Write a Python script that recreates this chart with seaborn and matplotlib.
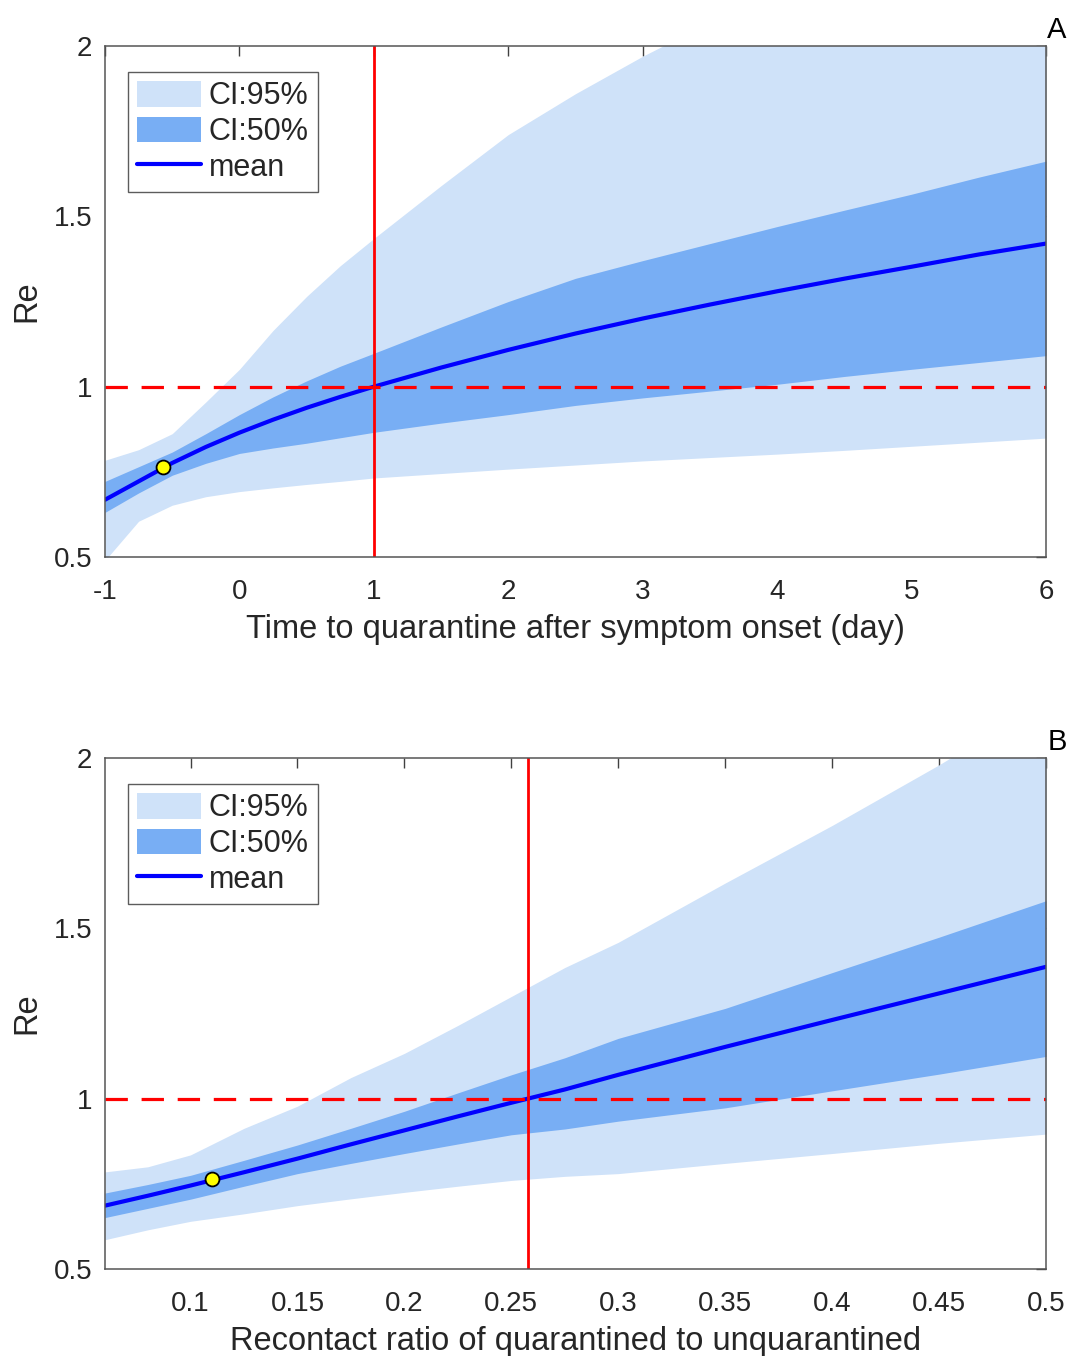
import numpy as np
import pandas as pd
import matplotlib
matplotlib.use('Agg')
import matplotlib.pyplot as plt
import seaborn as sns

# ---- panel A: delay from symptom onset to quarantine ----
days = [-1, -0.75, -0.5, -0.25, 0, 0.25, 0.5, 0.75, 1, 1.5, 2, 2.5, 3, 3.5, 4, 4.5, 5, 5.5, 6]
a_mean = [0.668, 0.722, 0.776, 0.823, 0.865, 0.903, 0.938, 0.970, 1.0, 1.056, 1.108, 1.156,
          1.200, 1.241, 1.280, 1.317, 1.352, 1.388, 1.420]
a_lo50 = [0.631, 0.688, 0.740, 0.775, 0.804, 0.820, 0.834, 0.850, 0.866, 0.893, 0.918, 0.945,
          0.967, 0.987, 1.007, 1.030, 1.051, 1.071, 1.091]
a_hi50 = [0.722, 0.765, 0.808, 0.862, 0.918, 0.970, 1.017, 1.060, 1.098, 1.175, 1.250, 1.318,
          1.370, 1.420, 1.470, 1.518, 1.565, 1.615, 1.662]
a_lo95 = [0.490, 0.605, 0.652, 0.677, 0.692, 0.703, 0.713, 0.722, 0.732, 0.745, 0.758, 0.770,
          0.782, 0.792, 0.802, 0.813, 0.825, 0.837, 0.849]
a_hi95 = [0.784, 0.815, 0.862, 0.955, 1.051, 1.165, 1.265, 1.355, 1.435, 1.590, 1.740, 1.860,
          1.970, 2.070, 2.160, 2.250, 2.330, 2.410, 2.490]
a_cut = 1.0
a_point = (-0.57, 0.764)

# ---- panel B: recontact ratio ----
ratio = [0.06, 0.08, 0.1, 0.125, 0.15, 0.175, 0.2, 0.225, 0.25, 0.275, 0.3, 0.35, 0.4, 0.45, 0.5]
b_mean = [0.686, 0.715, 0.745, 0.784, 0.824, 0.866, 0.907, 0.948, 0.988, 1.027, 1.070, 1.152,
          1.231, 1.309, 1.387]
b_lo50 = [0.651, 0.678, 0.705, 0.743, 0.780, 0.810, 0.839, 0.867, 0.894, 0.911, 0.934, 0.973,
          1.023, 1.072, 1.124]
b_hi50 = [0.723, 0.748, 0.775, 0.819, 0.864, 0.913, 0.963, 1.017, 1.070, 1.120, 1.177, 1.265,
          1.370, 1.474, 1.581]
b_lo95 = [0.586, 0.615, 0.640, 0.662, 0.686, 0.706, 0.725, 0.743, 0.760, 0.772, 0.780, 0.810,
          0.839, 0.869, 0.896]
b_hi95 = [0.785, 0.800, 0.835, 0.913, 0.978, 1.062, 1.133, 1.215, 1.300, 1.385, 1.459, 1.633,
          1.802, 1.980, 2.170]
b_cut = 0.258
b_point = (0.11, 0.763)

y_ticks = [0.5, 1, 1.5, 2]
y_labels = ['0.5', '1', '1.5', '2']
a_ticks = [-1, 0, 1, 2, 3, 4, 5, 6]
a_labels = ['-1', '0', '1', '2', '3', '4', '5', '6']
b_ticks = [0.1, 0.15, 0.2, 0.25, 0.3, 0.35, 0.4, 0.45, 0.5]
b_labels = ['0.1', '0.15', '0.2', '0.25', '0.3', '0.35', '0.4', '0.45', '0.5']

sns.set_style('white')
plt.rcParams['font.family'] = ['Liberation Sans', 'DejaVu Sans']
plt.rcParams['axes.unicode_minus'] = False

light = '#cfe2f9'
dark = '#78aef4'
fs = 20


def panel(ax, x, lo95, hi95, lo50, hi50, mean, cut, point, xlim, ticks, labels, xlabel, tag):
    df = pd.DataFrame({'x': x, 'mean': mean})
    ax.fill_between(x, lo95, hi95, color=light, lw=0, label='CI:95%')
    ax.fill_between(x, lo50, hi50, color=dark, lw=0, label='CI:50%')
    sns.lineplot(data=df, x='x', y='mean', ax=ax, color='#0000ff', lw=3, label='mean')
    ax.axhline(1, color='#ff0000', lw=2.3, dashes=(7, 4.3))
    ax.axvline(cut, color='#ff0000', lw=2)
    ax.plot([point[0]], [point[1]], 'o', ms=10, mfc='#ffff00', mec='black', mew=1.3, zorder=5)

    ax.set_xlim(*xlim)
    ax.set_ylim(0.5, 2)
    ax.set_xticks(ticks)
    ax.set_xticklabels(labels)
    ax.set_yticks(y_ticks)
    ax.set_yticklabels(y_labels)
    ax.tick_params(direction='in', length=7, width=1, top=True, right=True,
                   labelsize=fs, colors='#404040', labelcolor='#262626', pad=9)
    ax.tick_params(axis='x', pad=16)
    for s in ax.spines.values():
        s.set_color('#555555')
        s.set_linewidth(1.1)
    ax.set_xlabel(xlabel, fontsize=23.5, color='#262626', labelpad=6)
    ax.set_ylabel('Re', fontsize=23.5, color='#262626', labelpad=8)

    leg = ax.legend(loc='upper left', bbox_to_anchor=(0.0244, 0.949), borderaxespad=0,
                    fontsize=22, frameon=True, fancybox=False, handlelength=2.1,
                    handleheight=0.9, handletextpad=0.25, labelspacing=0.18,
                    borderpad=0.3)
    leg.get_frame().set_edgecolor('#333333')
    leg.get_frame().set_linewidth(1.0)
    fig.text(1057 / 1069, ax.get_position().y1 + 16 / 1356, tag, fontsize=21,
             ha='center', va='center', color='black')


fig = plt.figure(figsize=(10.69, 13.56), dpi=100)
ax1 = fig.add_axes([105 / 1069, 1 - 557 / 1356, 941 / 1069, 511 / 1356])
ax2 = fig.add_axes([105 / 1069, 1 - 1269 / 1356, 941 / 1069, 511 / 1356])

panel(ax1, days, a_lo95, a_hi95, a_lo50, a_hi50, a_mean, a_cut, a_point, (-1, 6),
      a_ticks, a_labels, 'Time to quarantine after symptom onset (day)', 'A')
panel(ax2, ratio, b_lo95, b_hi95, b_lo50, b_hi50, b_mean, b_cut, b_point, (0.06, 0.5),
      b_ticks, b_labels, 'Recontact ratio of quarantined to unquarantined', 'B')

fig.savefig('out.png', dpi=100)
